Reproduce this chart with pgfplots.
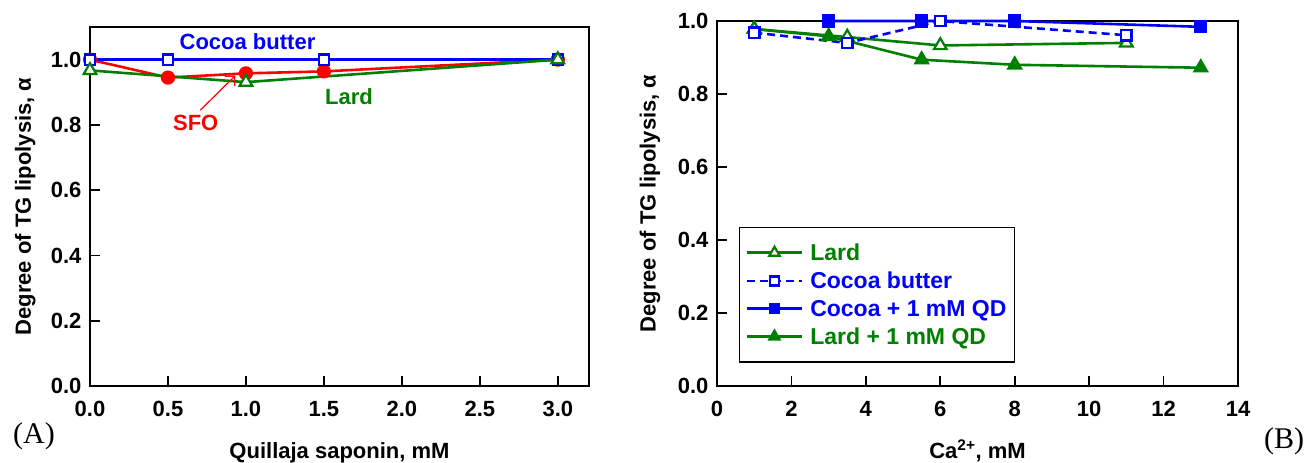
\documentclass[border=0pt]{standalone}
\usepackage{fontspec}
\setmainfont{Liberation Sans}
\newfontfamily\timesfont{Liberation Serif}
\usepackage{pgfplots}
\pgfplotsset{compat=1.18}
\usetikzlibrary{arrows.meta}

\definecolor{cblue}{RGB}{0,0,255}
\definecolor{cgreen}{RGB}{0,128,0}
\definecolor{cred}{RGB}{255,0,0}

\newcommand{\lbl}{\bfseries\fontsize{22}{26}\selectfont}

\pgfplotsset{
  panel/.style={
    scale only axis,
    axis line style={line width=1.6pt},
    every tick/.style={line width=1.6pt, black},
    major tick length=10pt,
    tick align=inside,
    tick pos=left,
    tick label style={font=\lbl},
    label style={font=\lbl},
    /pgf/number format/assume math mode=true,
    clip=false,
    ymin=0,
    ytick={0,0.2,0.4,0.6,0.8,1},
    yticklabel style={xshift=-5pt, /pgf/number format/fixed,
      /pgf/number format/fixed zerofill, /pgf/number format/precision=1},
    xticklabel style={yshift=-12pt},
    ylabel={Degree of TG lipolysis, α},
    xlabel style={at={(axis description cs:0.5,0)}, anchor=base, yshift=-72pt},
  },
  ser/.style={line width=2.6pt, every mark/.append style={solid, line width=2.2pt}},
  open/.style={every mark/.append style={fill=white}},
  dsh/.style={dash pattern=on 8pt off 5pt},
}

\begin{document}
\begin{tikzpicture}
\useasboundingbox (0,0) rectangle (1309pt,463pt);

% (A) quillaja saponin
\begin{axis}[panel, at={(90pt,77pt)}, anchor=south west,
  width=499pt, height=359pt,
  xmin=0, xmax=3.2, ymax=1.1,
  xtick={0,0.5,1,1.5,2,2.5,3},
  xticklabel style={/pgf/number format/fixed,
    /pgf/number format/fixed zerofill, /pgf/number format/precision=1},
  ylabel style={at={(axis description cs:-0.130,0.5)}, anchor=center},
  xlabel={Quillaja saponin, mM},
]
\addplot[ser, cred, mark=*, mark size=6pt] coordinates {
  (0,1.0) (0.5,0.945) (1.0,0.958) (1.5,0.964) (3.0,1.0)
};
\addplot[ser, open, cblue, mark=square*, mark size=5.2pt] coordinates {
  (0,1.0) (0.5,1.0) (1.5,1.0) (3.0,1.0)
};
\addplot[ser, open, cgreen, mark=triangle*, mark size=7.3pt] coordinates {
  (0,0.967) (1.0,0.931) (3.0,1.0)
};
\node[cblue, font=\lbl] at (axis cs:1.01,1.054) {Cocoa butter};
\node[cgreen, font=\lbl] at (axis cs:1.661,0.886) {Lard};
\node[cred, font=\lbl] at (axis cs:0.678,0.806) {SFO};
\draw[cred, line width=1.2pt, -{Straight Barb[length=7pt]}]
  (axis cs:0.707,0.845) -- (axis cs:0.932,0.951);
\end{axis}

% (B) calcium
\begin{axis}[panel, at={(717pt,77pt)}, anchor=south west,
  width=521pt, height=365pt,
  xmin=0, xmax=14, ymax=1.0,
  xtick={0,2,4,6,8,10,12,14},
  ylabel style={at={(axis description cs:-0.1286,0.5)}, anchor=center},
  xlabel={Ca\textsuperscript{2+}, mM},
  legend style={at={(0.042,0.436)}, anchor=north west, draw=black,
    line width=1.6pt, font=\bfseries\fontsize{23}{27}\selectfont,
    row sep=6pt, inner xsep=6pt, inner ysep=14pt,
    /tikz/every odd column/.append style={column sep=5pt}},
  legend cell align=left,
  legend image code/.code={\draw[mark repeat=2, mark phase=2, #1]
    plot coordinates {(0pt,0pt) (27.5pt,0pt) (55pt,0pt)};},
]
\addlegendimage{ser, open, cgreen, mark=triangle*, mark size=6pt}
\addlegendentry{\textcolor{cgreen}{Lard}}
\addlegendimage{ser, open, cblue, dsh, mark=square*, mark size=4.5pt}
\addlegendentry{\textcolor{cblue}{Cocoa butter}}
\addlegendimage{ser, cblue, mark=square*, mark size=4.5pt}
\addlegendentry{\textcolor{cblue}{Cocoa + 1 mM QD}}
\addlegendimage{ser, cgreen, mark=triangle*, mark size=6pt}
\addlegendentry{\textcolor{cgreen}{Lard + 1 mM QD}}

\addplot[ser, cgreen, mark=triangle*, mark size=7.3pt, forget plot] coordinates {
  (1,0.978) (3,0.958) (5.5,0.894) (8,0.88) (13,0.872)
};
\addplot[ser, open, cgreen, mark=triangle*, mark size=7.3pt, forget plot] coordinates {
  (1,0.978) (3.5,0.956) (6,0.933) (11,0.94)
};
\addplot[ser, cblue, mark=square*, mark size=5.5pt, forget plot] coordinates {
  (3,1.0) (5.5,1.0) (8,1.0) (13,0.984)
};
\addplot[ser, open, cblue, dsh, mark=square*, mark size=5.2pt, forget plot] coordinates {
  (1,0.968) (3.5,0.94) (6,1.0) (11,0.961)
};
\end{axis}

\node[font=\timesfont\fontsize{30}{34}\selectfont] at (34pt,27pt) {(A)};
\node[font=\timesfont\fontsize{30}{34}\selectfont] at (1284pt,22pt) {(B)};
\end{tikzpicture}
\end{document}
